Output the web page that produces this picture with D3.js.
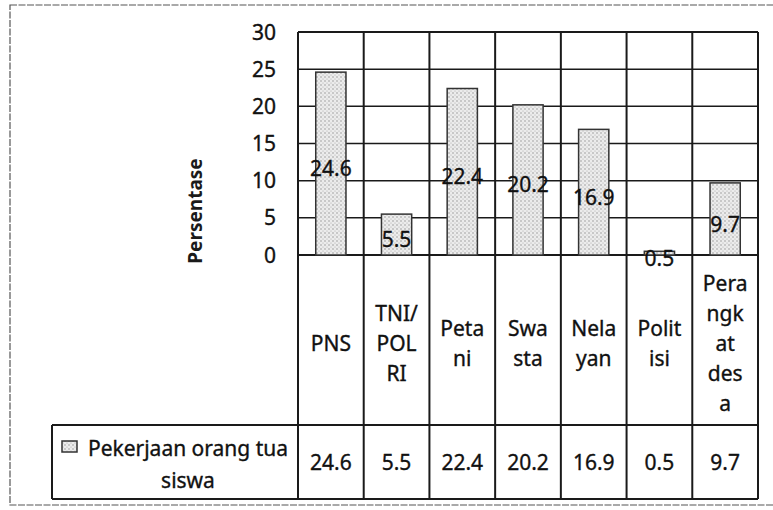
<!DOCTYPE html>
<html>
<head>
<meta charset="utf-8">
<script src="https://cdn.jsdelivr.net/npm/d3@7"></script>
<style>
  html, body { margin: 0; padding: 0; background: #fff; }
  svg { display: block; font-family: "Noto Sans", "Open Sans", sans-serif; }
  .t { fill: #111; stroke: #111; stroke-width: 0.35px; }
</style>
</head>
<body>
<svg id="chart" width="773" height="510"></svg>
<script>
// Occupations of the students' parents (percent)
const categories = ["PNS", "TNI/POLRI", "Petani", "Swasta", "Nelayan", "Politisi", "Perangkat desa"];
const categoryLines = [["PNS"], ["TNI/", "POL", "RI"], ["Peta", "ni"], ["Swa", "sta"], ["Nela", "yan"], ["Polit", "isi"], ["Pera", "ngk", "at", "des", "a"]];
const values = [24.6, 5.5, 22.4, 20.2, 16.9, 0.5, 9.7];
const yTicks = [0, 5, 10, 15, 20, 25, 30];
const seriesName = "Pekerjaan orang tua siswa";
const seriesNameLines = ["Pekerjaan orang tua", "siswa"];
const axisTitle = "Persentase";

const svg = d3.select("#chart");
const ink = "#1a1a1a";

// layout
const plotL = 298, plotR = 758, plotT = 32, plotB = 255;
const catRowB = 425, valRowB = 499, legendL = 52;

const x = d3.scaleBand().domain(categories).range([plotL, plotR]).paddingInner(0).paddingOuter(0);
const y = d3.scaleLinear().domain([0, 30]).range([plotB, plotT]);
const barW = x.bandwidth() * 0.46;

// stippled bar fill
const defs = svg.append("defs");
const pat = defs.append("pattern").attr("id", "stipple")
  .attr("width", 4).attr("height", 4).attr("patternUnits", "userSpaceOnUse");
pat.append("rect").attr("width", 4).attr("height", 4).attr("fill", "#ececec");
pat.append("circle").attr("cx", 1).attr("cy", 1).attr("r", 0.7).attr("fill", "#8a8a8a");
pat.append("circle").attr("cx", 3).attr("cy", 3).attr("r", 0.6).attr("fill", "#a8a8a8");

// outer frame
svg.append("rect").attr("x", 10).attr("y", 5).attr("width", 820).attr("height", 500)
  .attr("fill", "none").attr("stroke", "#555").attr("stroke-width", 1.2).attr("stroke-dasharray", "7,1.5");

// horizontal gridlines
svg.append("g").selectAll("line").data(yTicks).join("line")
  .attr("x1", plotL).attr("x2", plotR)
  .attr("y1", d => y(d)).attr("y2", d => y(d))
  .attr("stroke", ink).attr("stroke-width", d => d === 0 || d === 30 ? 2 : 1.5);

// y tick labels
svg.append("g").selectAll("text").data(yTicks).join("text")
  .attr("class", "t")
  .attr("x", 276).attr("y", d => y(d))
  .attr("dy", "0.36em").attr("text-anchor", "end")
  .attr("font-size", 21)
  .text(d => d);

// axis title
svg.append("text")
  .attr("transform", `translate(202,211) rotate(-90)`)
  .attr("text-anchor", "middle").attr("font-size", 19).attr("font-weight", "bold").attr("fill", ink)
  .text(axisTitle);

// bars
svg.append("g").selectAll("rect").data(values).join("rect")
  .attr("x", (d, i) => x(categories[i]) + (x.bandwidth() - barW) / 2)
  .attr("y", d => y(d))
  .attr("width", barW)
  .attr("height", d => y(0) - y(d))
  .attr("fill", "url(#stipple)").attr("stroke", "#333").attr("stroke-width", 1.5);

// data table: vertical separators
const bounds = categories.map(c => x(c)).concat([plotR]);
svg.append("g").selectAll("line").data(bounds).join("line")
  .attr("x1", d => d).attr("x2", d => d)
  .attr("y1", plotT).attr("y2", valRowB)
  .attr("stroke", ink).attr("stroke-width", 2);

// data table: horizontal rules
svg.append("line").attr("x1", legendL).attr("x2", plotR).attr("y1", catRowB).attr("y2", catRowB)
  .attr("stroke", ink).attr("stroke-width", 2);
svg.append("line").attr("x1", legendL).attr("x2", plotR).attr("y1", valRowB).attr("y2", valRowB)
  .attr("stroke", ink).attr("stroke-width", 2);
svg.append("line").attr("x1", legendL).attr("x2", legendL).attr("y1", catRowB).attr("y2", valRowB)
  .attr("stroke", ink).attr("stroke-width", 2);

// value labels centred in bars
svg.append("g")
  .selectAll("text").data(values).join("text")
  .attr("class", "t")
  .attr("x", (d, i) => x(categories[i]) + x.bandwidth() / 2)
  .attr("y", d => (y(d) + y(0)) / 2 + 5)
  .attr("dy", "0.36em").attr("text-anchor", "middle")
  .attr("font-size", 21)
  .text(d => d);

// category names (wrapped)
const lineH = 30, catMid = 343;
const catG = svg.append("g").selectAll("text").data(categoryLines).join("text")
  .attr("class", "t")
  .attr("text-anchor", "middle").attr("font-size", 21);
catG.each(function(lines, i) {
  const cx = x(categories[i]) + x.bandwidth() / 2;
  const y0 = catMid - (lines.length - 1) * lineH / 2;
  d3.select(this).selectAll("tspan").data(lines).join("tspan")
    .attr("x", cx).attr("y", (l, k) => y0 + k * lineH).attr("dy", "0.36em")
    .text(l => l);
});

// value row
const valMid = (catRowB + valRowB) / 2;
svg.append("g").selectAll("text").data(values).join("text")
  .attr("class", "t")
  .attr("x", (d, i) => x(categories[i]) + x.bandwidth() / 2)
  .attr("y", valMid).attr("dy", "0.36em").attr("text-anchor", "middle")
  .attr("font-size", 21)
  .text(d => d);

// legend cell: key + series name
svg.append("rect").attr("x", 62).attr("y", 441).attr("width", 15).attr("height", 11)
  .attr("fill", "url(#stipple)").attr("stroke", "#333").attr("stroke-width", 1.5);
svg.append("text").attr("class", "t").attr("text-anchor", "middle").attr("font-size", 21)
  .selectAll("tspan").data(seriesNameLines).join("tspan")
  .attr("x", 188).attr("y", (l, k) => 448 + k * 32).attr("dy", "0.36em")
  .text(l => l);
</script>
</body>
</html>
